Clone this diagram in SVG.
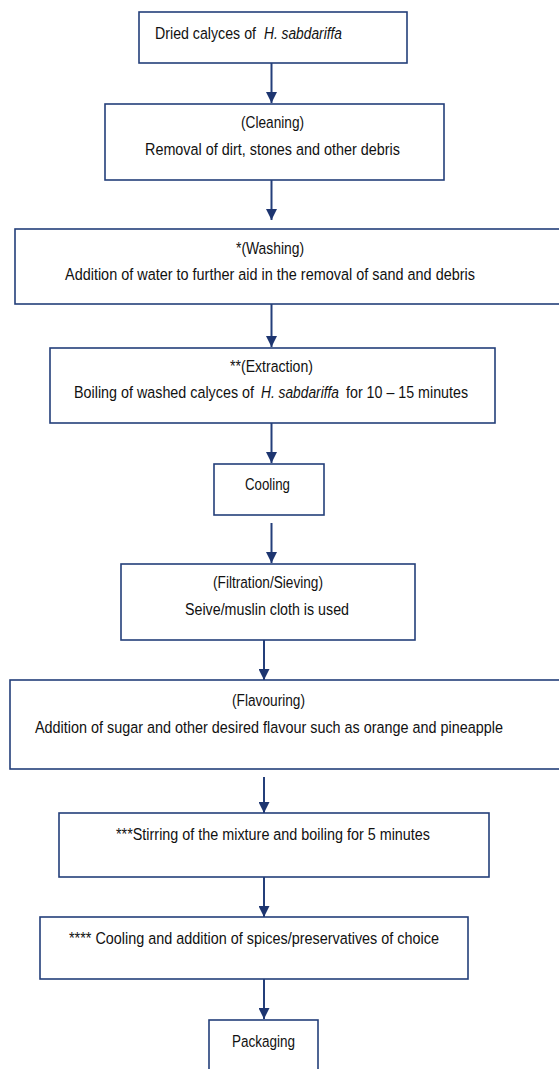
<svg xmlns="http://www.w3.org/2000/svg" width="559" height="1069" viewBox="0 0 559 1069">
<defs>
<style>
.box{fill:#ffffff;stroke:#243f7a;stroke-width:1.6}
.t{font-family:"Liberation Sans",Arial,sans-serif;font-size:16.5px;fill:#111111}
.i{font-style:italic}
.c{stroke:#243f7a;stroke-width:2;fill:none}
</style>
<marker id="ah" markerUnits="userSpaceOnUse" markerWidth="11" markerHeight="11" refX="10" refY="5" orient="auto" viewBox="0 0 10 10">
<path d="M0,0 L10,5 L0,10 z" fill="#1d3570"/>
</marker>
</defs>
<rect x="0" y="0" width="559" height="1069" fill="#ffffff"/>
<g id="connectors">
<line class="c" x1="271.5" y1="63" x2="271.5" y2="103" marker-end="url(#ah)"/>
<line class="c" x1="271.5" y1="180" x2="271.5" y2="220" marker-end="url(#ah)"/>
<line class="c" x1="271.5" y1="304" x2="271.5" y2="347" marker-end="url(#ah)"/>
<line class="c" x1="271.5" y1="423" x2="271.5" y2="463" marker-end="url(#ah)"/>
<line class="c" x1="271.5" y1="523" x2="271.5" y2="563" marker-end="url(#ah)"/>
<line class="c" x1="264" y1="640" x2="264" y2="680" marker-end="url(#ah)"/>
<line class="c" x1="264" y1="777" x2="264" y2="813" marker-end="url(#ah)"/>
<line class="c" x1="264" y1="877" x2="264" y2="917" marker-end="url(#ah)"/>
<line class="c" x1="264" y1="979" x2="264" y2="1019" marker-end="url(#ah)"/>
</g>
<g id="n1">
<rect class="box" x="139" y="12" width="268" height="51"/>
<text class="t" transform="translate(155 39) scale(0.86 1)" textLength="117.4" lengthAdjust="spacingAndGlyphs">Dried calyces of</text>
<text class="t i" transform="translate(264 39) scale(0.86 1)" textLength="90.7" lengthAdjust="spacingAndGlyphs">H. sabdariffa</text>
</g>
<g id="n2">
<rect class="box" x="105" y="104" width="339" height="76"/>
<text class="t" transform="translate(241 128) scale(0.86 1)" textLength="73.3" lengthAdjust="spacingAndGlyphs">(Cleaning)</text>
<text class="t" transform="translate(145 155) scale(0.86 1)" textLength="296.5" lengthAdjust="spacingAndGlyphs">Removal of dirt, stones and other debris</text>
</g>
<g id="n3">
<rect class="box" x="15" y="229" width="560" height="75"/>
<text class="t" transform="translate(236 254) scale(0.86 1)" textLength="79.1" lengthAdjust="spacingAndGlyphs">*(Washing)</text>
<text class="t" transform="translate(65 280) scale(0.86 1)" textLength="476.7" lengthAdjust="spacingAndGlyphs">Addition of water to further aid in the removal of sand and debris</text>
</g>
<g id="n4">
<rect class="box" x="50" y="348" width="445" height="75"/>
<text class="t" transform="translate(230 372) scale(0.86 1)" textLength="96.5" lengthAdjust="spacingAndGlyphs">**(Extraction)</text>
<text class="t" transform="translate(74 398) scale(0.86 1)" textLength="209.3" lengthAdjust="spacingAndGlyphs">Boiling of washed calyces of</text>
<text class="t i" transform="translate(261 398) scale(0.86 1)" textLength="90.7" lengthAdjust="spacingAndGlyphs">H. sabdariffa</text>
<text class="t" transform="translate(346 398) scale(0.86 1)" textLength="141.9" lengthAdjust="spacingAndGlyphs">for 10 – 15 minutes</text>
</g>
<g id="n5">
<rect class="box" x="214" y="464" width="110" height="51"/>
<text class="t" transform="translate(245 490) scale(0.86 1)" textLength="52.3" lengthAdjust="spacingAndGlyphs">Cooling</text>
</g>
<g id="n6">
<rect class="box" x="121" y="564" width="294" height="76"/>
<text class="t" transform="translate(213 588) scale(0.86 1)" textLength="127.9" lengthAdjust="spacingAndGlyphs">(Filtration/Sieving)</text>
<text class="t" transform="translate(185 615) scale(0.86 1)" textLength="190.7" lengthAdjust="spacingAndGlyphs">Seive/muslin cloth is used</text>
</g>
<g id="n7">
<rect class="box" x="10" y="680" width="565" height="89"/>
<text class="t" transform="translate(232 706) scale(0.86 1)" textLength="84.9" lengthAdjust="spacingAndGlyphs">(Flavouring)</text>
<text class="t" transform="translate(35 733) scale(0.86 1)" textLength="544.2" lengthAdjust="spacingAndGlyphs">Addition of sugar and other desired flavour such as orange and pineapple</text>
</g>
<g id="n8">
<rect class="box" x="59" y="813" width="430" height="64"/>
<text class="t" transform="translate(116 840) scale(0.86 1)" textLength="365.1" lengthAdjust="spacingAndGlyphs">***Stirring of the mixture and boiling for 5 minutes</text>
</g>
<g id="n9">
<rect class="box" x="40" y="917" width="428" height="62"/>
<text class="t" transform="translate(69 944) scale(0.86 1)" textLength="430.2" lengthAdjust="spacingAndGlyphs">**** Cooling and addition  of spices/preservatives of choice</text>
</g>
<g id="n10">
<rect class="box" x="209" y="1020" width="109" height="60"/>
<text class="t" transform="translate(232 1047) scale(0.86 1)" textLength="73.3" lengthAdjust="spacingAndGlyphs">Packaging</text>
</g>
</svg>
